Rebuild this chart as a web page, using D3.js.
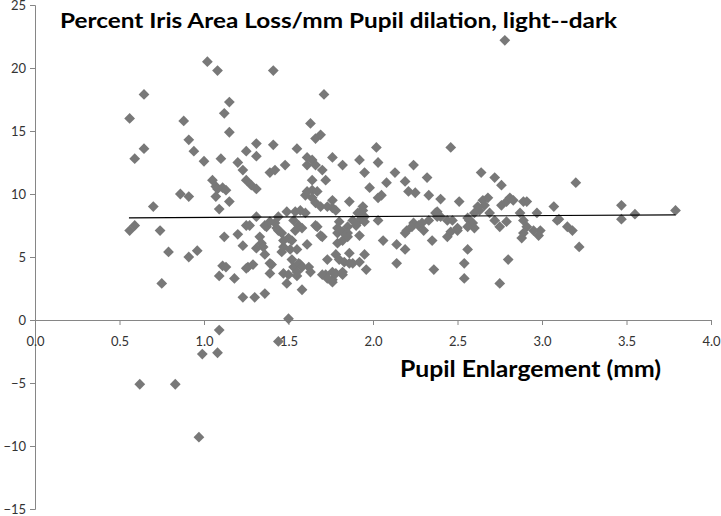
<!DOCTYPE html>
<html>
<head>
<meta charset="utf-8">
<script src="https://cdn.jsdelivr.net/npm/d3@7"></script>
<style>
  body { margin: 0; background: #fff; }
  .tick text { font-family: Lato, "Open Sans", sans-serif; font-size: 13px; fill: #333; }
  .axis path, .axis line { stroke: #868686; }
  .title, .axis-label { font-family: Lato, "Open Sans", sans-serif; font-weight: bold; fill: #000; }
</style>
</head>
<body>
<div id="main"></div>
<script>
// data
const pupilMm = [
  0.56,0.59,0.645,0.645,0.56,0.59,0.70,0.74,0.79,0.86,0.91,0.88,0.91,0.94,0.96,0.91,1.00,1.02,1.08,1.05,
  1.07,1.09,1.10,1.07,1.08,1.11,1.13,1.15,1.12,1.15,1.15,1.12,1.20,1.23,1.20,1.23,1.25,1.28,1.31,1.25,
  1.31,1.31,1.25,1.31,1.39,1.42,1.41,1.41,1.48,1.37,1.42,1.44,1.55,1.61,1.64,1.61,1.66,1.63,1.66,1.69,
  1.71,1.76,1.82,1.70,1.72,1.60,1.64,1.67,1.66,1.69,1.76,1.76,1.86,1.92,1.67,1.70,1.80,1.85,1.88,1.91,
  1.79,1.82,
  0.75,1.11,1.13,1.09,1.18,1.23,1.30,1.36,1.26,1.29,1.39,1.40,1.47,1.49,1.50,1.58,1.55,1.53,1.57,1.62,
  1.72,1.76,1.76,1.82,1.88,1.73,1.09,0.99,1.08,1.44,0.62,0.83,0.97,
  1.96,2.14,2.36,2.54,2.54,2.75,2.80,2.78,2.02,2.46,2.03,1.95,2.13,2.24,2.32,2.08,2.19,1.98,2.05,2.21,
  2.25,2.33,2.40,2.51,2.64,2.72,2.76,2.65,2.68,2.66,2.62,2.63,2.60,2.76,2.79,2.81,2.83,2.89,2.91,3.07,
  3.20,3.47,3.47,3.55,3.79,1.94,1.92,2.03,2.20,2.19,2.24,2.27,2.30,2.33,2.37,2.40,2.44,2.44,2.50,2.06,
  2.14,2.19,2.35,2.56,2.57,2.69,2.72,2.75,2.87,2.89,2.91,2.89,2.97,2.99,2.95,2.98,3.09,3.15,3.18,3.22,
  2.88,2.38,2.38,2.29,2.23,2.47,2.50,2.46,2.56,2.59,2.60,2.56,2.79,3.10,
  1.64,1.61,1.64,1.73,1.78,2.03,1.94,1.92,1.95,1.27,1.36,1.39,1.44,1.49,1.54,1.57,1.60,1.53,1.56,1.58,
  1.54,1.43,1.46,1.66,1.69,1.79,1.82,1.85,1.85,1.79,1.92,1.90,1.95,1.33,1.34,1.35,1.36,1.31,1.47,1.50,
  1.52,1.47,1.51,1.46,1.55,1.61,1.52,1.56,1.58,1.63,1.55,1.50,1.78,1.80,1.83,1.86,1.95,1.86,1.92,1.70,
  1.73,1.78,1.76,1.82,1.39,1.25
];
const irisLoss = [
  16.0,12.8,13.6,17.9,7.1,7.5,9.0,7.1,5.4,10.0,9.8,15.8,14.3,13.4,5.5,5.0,12.6,20.5,19.8,11.1,
  9.8,8.8,12.8,10.6,10.4,10.5,10.3,9.4,16.4,17.3,14.9,6.6,6.8,5.9,12.5,11.9,11.1,10.7,10.4,13.4,
  13.0,14.0,7.5,8.2,11.7,11.9,19.8,13.9,12.3,7.4,7.7,7.1,13.6,12.9,12.7,12.3,12.3,15.6,14.4,14.7,
  17.9,12.9,12.3,11.9,11.1,9.9,10.3,10.2,9.3,9.0,9.5,8.9,9.4,12.7,7.4,6.6,7.8,7.4,7.9,8.5,
  6.9,6.3,
  2.9,4.3,4.2,3.5,3.3,1.8,1.8,2.1,4.2,4.4,3.7,4.4,3.7,2.9,0.1,2.4,3.5,4.2,4.4,4.2,
  3.6,3.2,3.8,3.6,4.5,4.8,-0.8,-2.7,-2.6,-1.7,-5.1,-5.1,-9.3,
  4.0,4.5,4.0,4.5,3.3,2.9,4.8,22.2,13.7,13.7,12.5,11.7,11.7,12.3,11.3,10.9,11.0,10.5,9.9,10.2,
  10.1,9.9,9.6,9.4,11.7,11.3,10.7,9.5,9.7,9.1,9.0,8.7,8.5,9.1,9.4,9.7,9.5,9.4,9.4,9.0,
  10.9,9.1,8.0,8.4,8.7,9.0,7.9,7.9,7.1,6.9,7.7,7.5,7.1,7.9,8.5,8.2,7.9,6.6,7.1,6.3,
  6.0,5.6,6.3,5.6,7.9,8.5,7.9,7.4,8.5,7.9,7.4,6.9,8.5,7.1,7.1,6.7,7.9,7.4,7.1,5.8,
  6.5,8.6,8.2,7.7,7.4,7.9,7.3,7.0,8.1,7.7,7.3,7.4,7.8,8.0,
  11.1,10.2,9.7,9.0,8.7,9.7,8.7,8.5,8.2,7.5,7.5,7.8,8.2,8.6,8.6,8.7,8.5,7.9,7.5,7.3,
  7.1,7.3,6.9,7.5,6.7,7.3,7.0,6.9,6.6,6.1,6.7,7.5,7.8,6.6,6.1,5.8,5.2,5.7,6.3,6.5,
  6.3,5.8,5.6,5.4,5.6,6.0,4.8,4.5,4.2,3.8,3.8,3.6,5.2,4.8,4.6,4.5,5.2,5.3,4.6,3.6,
  3.3,3.7,3.0,3.8,4.5,4.1
];
// linear trend line endpoints
const trendX = [0.556, 3.79];
const trendY = [8.1, 8.35];
const xTicks = [0, 0.5, 1, 1.5, 2, 2.5, 3, 3.5, 4];
const yTicks = [-15, -10, -5, 0, 5, 10, 15, 20, 25];

const svg_width = 721, svg_height = 516;

var svg = d3.select("#main").append("svg")
    .attr("width", svg_width)
    .attr("height", svg_height);

var xScale = d3.scaleLinear().domain([0, 4]).range([35, 711]);
var yScale = d3.scaleLinear().domain([-15, 25]).range([509, 5]);

// y-axis
svg.append("g")
    .attr("class", "axis")
    .attr("transform", "translate(" + xScale(0) + ",0)")
    .call(d3.axisLeft(yScale).tickValues(yTicks).tickSizeOuter(0).tickSize(5).tickPadding(4))
    .call(g => g.selectAll(".tick text").attr("dy", "0.35em"));

// x-axis sits on y = 0
svg.append("g")
    .attr("class", "axis")
    .attr("transform", "translate(0," + yScale(0) + ")")
    .call(d3.axisBottom(xScale).tickValues(xTicks).tickFormat(d3.format(".1f")).tickSizeOuter(0).tickSize(5).tickPadding(12));

// points
var diamonds = pupilMm.map((x, i) => ({x: x, y: irisLoss[i]}));
svg.append("g").selectAll("path")
    .data(diamonds)
    .enter()
    .append("path")
    .attr("d", d3.symbol().type(d3.symbolSquare).size(58))
    .attr("transform", d => "translate(" + xScale(d.x) + "," + yScale(d.y) + ") rotate(45)")
    .attr("fill", "#787878");

// trend line
svg.append("line")
    .attr("x1", xScale(trendX[0])).attr("y1", yScale(trendY[0]))
    .attr("x2", xScale(trendX[1])).attr("y2", yScale(trendY[1]))
    .attr("stroke", "#000")
    .attr("stroke-width", 1.2);

// title
svg.append("text")
    .attr("class", "title")
    .attr("x", 60).attr("y", 28)
    .attr("font-size", 21)
    .attr("textLength", 557)
    .attr("lengthAdjust", "spacingAndGlyphs")
    .text("Percent Iris Area Loss/mm Pupil dilation, light--dark");

// x-axis label
svg.append("text")
    .attr("class", "axis-label")
    .attr("x", 400).attr("y", 377)
    .attr("font-size", 22)
    .attr("textLength", 261)
    .attr("lengthAdjust", "spacingAndGlyphs")
    .text("Pupil Enlargement (mm)");
</script>
</body>
</html>
